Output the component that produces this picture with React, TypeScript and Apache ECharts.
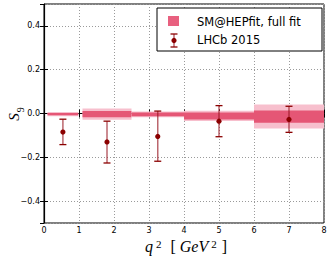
import React, { useEffect, useRef } from "react";
import * as echarts from "echarts";

// SM@HEPfit bins
const binLo = [0.1, 1.1, 2.5, 4, 6];
const binHi = [0.98, 2.5, 4, 6, 8];
const smCentral = [-0.003, -0.003, -0.004, -0.011, -0.014];
const sm1Sigma = [0.005, 0.014, 0.008, 0.016, 0.028];
const sm2Sigma = [0.01, 0.026, 0.013, 0.023, 0.055];

// LHCb 2015 measurements
const lhcbX = [0.54, 1.8, 3.25, 5.0, 7.0];
const lhcbY = [-0.085, -0.13, -0.105, -0.035, -0.027];
const lhcbErrUp = [0.059, 0.095, 0.116, 0.071, 0.06];
const lhcbErrDown = [0.057, 0.096, 0.113, 0.071, 0.059];

const xTicks = [0, 1, 2, 3, 4, 5, 6, 7, 8];

const INNER = "#e24a6c";
const OUTER = "#f7bfcd";
const DARK = "#8b0000";
const FONT = "DejaVu Sans";

export default function App() {
  const ref = useRef<HTMLDivElement>(null);
  useEffect(() => {
    if (!ref.current) return;
    const chart = echarts.init(ref.current, undefined, { renderer: "svg" });
    const bandData = binLo.map((lo, i) => [lo, binHi[i], smCentral[i], sm1Sigma[i], sm2Sigma[i]]);
    const errData = lhcbX.map((x, i) => [x, lhcbY[i], lhcbErrUp[i], lhcbErrDown[i]]);
    const grid = {
      color: "#9a9a9a",
      width: 1,
      type: [1, 2],
    };
    const option: any = {
      animation: false,
      grid: { left: 44, right: 8, top: 4, bottom: 37, show: true, borderColor: "#000", borderWidth: 1 },
      xAxis: [
        {
          type: "value",
          min: xTicks[0],
          max: xTicks[xTicks.length - 1],
          interval: 1,
          axisLine: { show: true, lineStyle: { color: "#000", width: 1.2 } },
          axisTick: { show: true, inside: true, length: 4, lineStyle: { color: "#000" } },
          axisLabel: { fontSize: 8, color: "#000", fontFamily: FONT, margin: 3 },
          splitLine: { show: true, lineStyle: grid },
        },
        {
          type: "value",
          position: "top",
          min: 0,
          max: 8,
          interval: 1,
          axisLine: { show: false },
          axisTick: { show: true, inside: true, length: 4, lineStyle: { color: "#000" } },
          axisLabel: { show: false },
          splitLine: { show: false },
        },
      ],
      yAxis: [
        {
          type: "value",
          min: -0.5,
          max: 0.5,
          splitNumber: 5,
          axisLine: { show: true, lineStyle: { color: "#000", width: 1.2 } },
          axisTick: { show: true, inside: true, length: 4, lineStyle: { color: "#000" } },
          axisLabel: {
            fontSize: 8,
            color: "#000",
            fontFamily: FONT,
            margin: 4,
            showMinLabel: false,
            showMaxLabel: false,
            formatter: (v: number) => (Math.abs(v) > 0.45 ? "" : v.toFixed(1).replace("-", "\u2212")),
          },
          splitLine: { show: true, lineStyle: grid },
        },
        {
          type: "value",
          position: "right",
          min: -0.5,
          max: 0.5,
          splitNumber: 5,
          axisLine: { show: false },
          axisTick: { show: true, inside: true, length: 4, lineStyle: { color: "#000" } },
          axisLabel: { show: false },
          splitLine: { show: false },
        },
      ],
      series: [
        {
          type: "custom",
          xAxisIndex: 0,
          yAxisIndex: 0,
          z: 3,
          data: bandData,
          encode: { x: [0, 1], y: [2] },
          renderItem: (params: any, api: any) => {
            const lo = api.value(0), hi = api.value(1), c = api.value(2), s1 = api.value(3), s2 = api.value(4);
            const o1 = api.coord([lo, c + s2]);
            const o2 = api.coord([hi, c - s2]);
            const i1 = api.coord([lo, c + s1]);
            const i2 = api.coord([hi, c - s1]);
            return {
              type: "group",
              children: [
                { type: "rect", shape: { x: o1[0], y: o1[1], width: o2[0] - o1[0], height: o2[1] - o1[1] }, style: { fill: OUTER } },
                { type: "rect", shape: { x: i1[0], y: i1[1], width: i2[0] - i1[0], height: i2[1] - i1[1] }, style: { fill: INNER, opacity: 0.9 } },
              ],
            };
          },
        },
        {
          type: "custom",
          xAxisIndex: 0,
          yAxisIndex: 0,
          z: 4,
          data: errData,
          encode: { x: [0], y: [1] },
          renderItem: (params: any, api: any) => {
            const x = api.value(0), y = api.value(1), up = api.value(2), dn = api.value(3);
            const p = api.coord([x, y]);
            const t = api.coord([x, y + up]);
            const b = api.coord([x, y - dn]);
            const hw = 3.5;
            return {
              type: "group",
              children: [
                { type: "line", shape: { x1: t[0], y1: t[1], x2: b[0], y2: b[1] }, style: { stroke: "rgba(150,20,30,0.65)", lineWidth: 1.5 } },
                { type: "line", shape: { x1: t[0] - hw, y1: t[1], x2: t[0] + hw, y2: t[1] }, style: { stroke: DARK, lineWidth: 1.3 } },
                { type: "line", shape: { x1: b[0] - hw, y1: b[1], x2: b[0] + hw, y2: b[1] }, style: { stroke: DARK, lineWidth: 1.3 } },
                { type: "circle", shape: { cx: p[0], cy: p[1], r: 2.6 }, style: { fill: DARK } },
              ],
            };
          },
        },
      ],
      graphic: [
        { type: "rect", z: 100, shape: { x: 157, y: 8, width: 165, height: 43 }, style: { fill: "#fff", stroke: "#000", lineWidth: 1 } },
        { type: "rect", z: 101, shape: { x: 168, y: 16, width: 11, height: 10 }, style: { fill: "#e8607f" } },
        { type: "text", z: 101, style: { text: "SM@HEPfit, full fit", x: 197, y: 21.5, fill: "#000", fontSize: 11.5, fontFamily: FONT, verticalAlign: "middle", align: "left" } },
        { type: "line", z: 101, shape: { x1: 174, y1: 34, x2: 174, y2: 47 }, style: { stroke: "rgba(150,20,30,0.65)", lineWidth: 1.5 } },
        { type: "line", z: 101, shape: { x1: 170.5, y1: 34, x2: 177.5, y2: 34 }, style: { stroke: DARK, lineWidth: 1.3 } },
        { type: "line", z: 101, shape: { x1: 170.5, y1: 47, x2: 177.5, y2: 47 }, style: { stroke: DARK, lineWidth: 1.3 } },
        { type: "circle", z: 101, shape: { cx: 174, cy: 40.5, r: 2.6 }, style: { fill: DARK } },
        { type: "text", z: 101, style: { text: "LHCb 2015", x: 197, y: 40, fill: "#000", fontSize: 11.5, fontFamily: FONT, verticalAlign: "middle", align: "left" } },
        {
          type: "text",
          z: 101,
          x: 14,
          y: 114,
          rotation: Math.PI / 2,
          style: {
            text: "{s|S}{sub|9}",
            x: 0,
            y: 0,
            align: "center",
            verticalAlign: "middle",
            fill: "#000",
            rich: {
              s: { fontSize: 15, fontStyle: "italic", fontFamily: "Liberation Serif", verticalAlign: "bottom" },
              sub: { fontSize: 10, fontFamily: "Liberation Serif", verticalAlign: "bottom", padding: [0, 0, -4, 1] },
            },
          },
        },
        {
          type: "text",
          z: 101,
          style: {
            text: "{i|q}{sup|2}{n|  [ }{i|GeV}{sup|2}{n| ]}",
            x: 186,
            y: 246,
            align: "center",
            verticalAlign: "middle",
            fill: "#000",
            rich: {
              i: { fontSize: 16, fontStyle: "italic", fontFamily: "Liberation Serif", verticalAlign: "bottom", lineHeight: 16 },
              n: { fontSize: 16, fontFamily: "Liberation Serif", verticalAlign: "bottom", lineHeight: 16 },
              sup: { fontSize: 11, fontFamily: "Liberation Serif", verticalAlign: "top", lineHeight: 11, padding: [0, 1, 0, 3] },
            },
          },
        },
      ],
    };
    chart.setOption(option);
    return () => chart.dispose();
  }, []);
  return <div ref={ref} style={{ width: 332, height: 260, position: "absolute", left: 0, top: 0 }} />;
}
